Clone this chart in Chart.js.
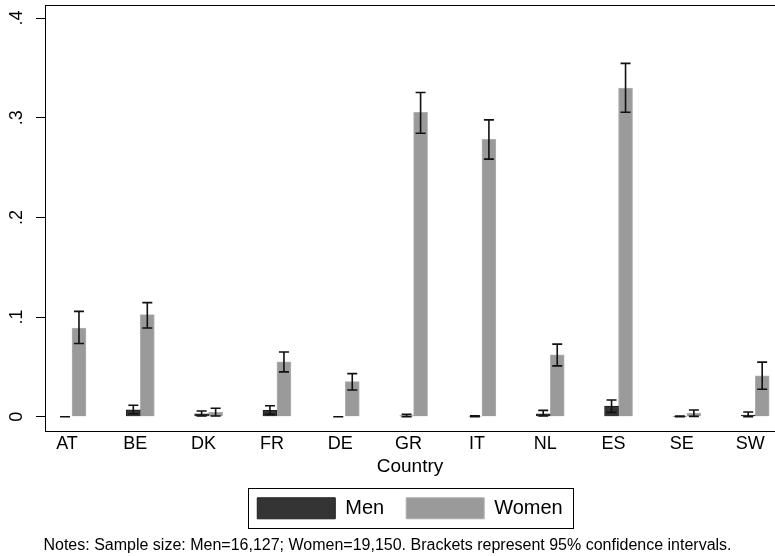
<!DOCTYPE html>
<html lang="en">
<head>
    <meta charset="UTF-8">
    <title>Country</title>
    <style>
        html, body { margin: 0; padding: 0; background: #fff; }
        .wrap { width: 775px; height: 556px; }
    </style>
</head>
<body>
    <div class="wrap"><canvas id="chart" width="775" height="556"></canvas></div>

    <script src="https://cdn.jsdelivr.net/npm/chart.js"></script>
    <script>
        // data
        const countries = ['AT', 'BE', 'DK', 'FR', 'DE', 'GR', 'IT', 'NL', 'ES', 'SE', 'SW'];
        const menValues = [0.0, 0.007, 0.003, 0.0065, 0.0, 0.001, 0.0005, 0.003, 0.0108, 0.0003, 0.0017];
        const menLow    = [0.0, 0.003, 0.0007, 0.0024, 0.0, 0.0, 0.0, 0.0007, 0.0044, 0.0, 0.0];
        const menHigh   = [0.0, 0.0115, 0.0057, 0.011, 0.0, 0.0024, 0.001, 0.0064, 0.0168, 0.0006, 0.0047];
        const womenValues = [0.089, 0.1024, 0.0044, 0.055, 0.0352, 0.3055, 0.2783, 0.0621, 0.3297, 0.0037, 0.041];
        const womenLow    = [0.0735, 0.089, 0.0007, 0.045, 0.0269, 0.2844, 0.2585, 0.051, 0.3055, 0.0004, 0.0276];
        const womenHigh   = [0.1057, 0.1145, 0.0085, 0.065, 0.0433, 0.3253, 0.2978, 0.0729, 0.3545, 0.0067, 0.0548];
        const yTicks = [0, 0.1, 0.2, 0.3, 0.4];
        const yTickLabels = ['0', '.1', '.2', '.3', '.4'];

        const FONT = 'Liberation Sans, Arial, sans-serif';

        // draws the 95% CI brackets on top of every bar
        const errorBars = {
            id: 'errorBars',
            afterDatasetsDraw(chart) {
                const ctx = chart.ctx;
                const y = chart.scales.y;
                chart.data.datasets.forEach((ds, di) => {
                    const meta = chart.getDatasetMeta(di);
                    meta.data.forEach((bar, i) => {
                        const top = y.getPixelForValue(ds.ciHigh[i]);
                        const bottom = y.getPixelForValue(ds.ciLow[i]);
                        ctx.save();
                        ctx.strokeStyle = '#111';
                        ctx.lineWidth = 1.6;
                        ctx.beginPath();
                        ctx.moveTo(bar.x, top);
                        ctx.lineTo(bar.x, bottom);
                        ctx.moveTo(bar.x - 5, top);
                        ctx.lineTo(bar.x + 5, top);
                        ctx.moveTo(bar.x - 5, bottom);
                        ctx.lineTo(bar.x + 5, bottom);
                        ctx.stroke();
                        ctx.restore();
                    });
                });
            }
        };

        // top frame line and the box round the legend
        const frame = {
            id: 'frame',
            afterDraw(chart) {
                const ctx = chart.ctx;
                const a = chart.chartArea;
                ctx.save();
                ctx.strokeStyle = '#000';
                ctx.lineWidth = 1;
                ctx.beginPath();
                ctx.moveTo(a.left, a.top + 0.5);
                ctx.lineTo(a.right, a.top + 0.5);
                ctx.stroke();

                const boxes = chart.legend.legendHitBoxes;
                if (boxes && boxes.length) {
                    const first = boxes[0];
                    const last = boxes[boxes.length - 1];
                    const x0 = Math.round(first.left - 9) + 0.5;
                    const x1 = Math.round(last.left + last.width + 10) + 0.5;
                    const y0 = Math.round(first.top - 10) + 0.5;
                    const y1 = Math.round(first.top + first.height + 9) + 0.5;
                    ctx.strokeRect(x0, y0, x1 - x0, y1 - y0);
                }
                ctx.restore();
            }
        };

        new Chart(document.getElementById('chart'), {
            type: 'bar',
            data: {
                datasets: [
                    {
                        label: 'Men',
                        data: menValues.map((v, i) => ({ x: i, y: v })),
                        ciLow: menLow,
                        ciHigh: menHigh,
                        backgroundColor: '#343434',
                        borderColor: '#1e1e1e',
                        borderWidth: 1
                    },
                    {
                        label: 'Women',
                        data: womenValues.map((v, i) => ({ x: i, y: v })),
                        ciLow: womenLow,
                        ciHigh: womenHigh,
                        backgroundColor: '#9a9a9a',
                        borderColor: '#b0b0b0',
                        borderWidth: 1
                    }
                ]
            },
            options: {
                responsive: false,
                animation: false,
                barThickness: 14,
                layout: { padding: { top: 5, left: 0, right: 0, bottom: 0 } },
                scales: {
                    x: {
                        type: 'linear',
                        offset: false,
                        min: -0.395,
                        max: 10.29,
                        afterBuildTicks(scale) {
                            scale.ticks = countries.map((c, i) => ({ value: i }));
                        },
                        afterFit(scale) {
                            scale.paddingLeft = 0;
                            scale.paddingRight = 0;
                        },
                        grid: { display: false, drawTicks: false },
                        border: { color: '#000', width: 1 },
                        ticks: {
                            autoSkip: false,
                            maxRotation: 0,
                            padding: 2,
                            labelOffset: -5,
                            color: '#000',
                            font: { family: FONT, size: 18 },
                            callback: (v) => countries[v]
                        },
                        title: {
                            display: true,
                            text: 'Country',
                            color: '#000',
                            font: { family: FONT, size: 19, lineHeight: 1 },
                            padding: { top: 0, bottom: 0 }
                        }
                    },
                    y: {
                        min: -0.0145,
                        max: 0.4131,
                        afterBuildTicks(scale) {
                            scale.ticks = yTicks.map(v => ({ value: v }));
                        },
                        afterFit(scale) {
                            scale.width = 45;
                            scale.paddingTop = 0;
                            scale.paddingBottom = 0;
                        },
                        grid: { drawOnChartArea: false, tickLength: 9, color: '#000' },
                        border: { color: '#000', width: 1 },
                        ticks: {
                            minRotation: 90,
                            maxRotation: 90,
                            crossAlign: 'center',
                            padding: 11,
                            color: '#000',
                            font: { family: FONT, size: 18 },
                            callback: (v) => yTickLabels[yTicks.indexOf(v)]
                        }
                    }
                },
                plugins: {
                    legend: {
                        position: 'bottom',
                        fullSize: false,
                        labels: {
                            boxWidth: 78,
                            boxHeight: 21,
                            padding: 22,
                            color: '#000',
                            font: { family: FONT, size: 20 }
                        }
                    },
                    subtitle: {
                        display: true,
                        position: 'bottom',
                        text: 'Notes: Sample size: Men=16,127; Women=19,150. Brackets represent 95% confidence intervals.',
                        color: '#000',
                        font: { family: FONT, size: 16, weight: 'normal' },
                        padding: { top: 7, bottom: 1 }
                    },
                    tooltip: { enabled: false }
                }
            },
            plugins: [errorBars, frame]
        });
    </script>
</body>
</html>
